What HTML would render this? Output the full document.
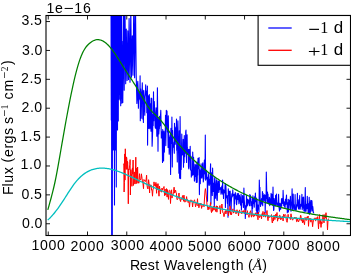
<!DOCTYPE html>
<html><head><meta charset="utf-8"><style>
html,body{margin:0;padding:0;background:#fff;overflow:hidden}
svg{display:block;will-change:transform}
text{font-family:"Liberation Sans",sans-serif;fill:#000}
</style></head><body>
<svg width="351" height="273" viewBox="0 0 351 273">
<rect x="0" y="0" width="351" height="273" fill="#fff"/>
<defs><clipPath id="ax"><rect x="46.0" y="15.5" width="304.50" height="220.00"/></clipPath></defs>
<g clip-path="url(#ax)" fill="none" stroke-linejoin="round" stroke-linecap="butt">
<path d="M111.0,-5.0 111.3,120.0 111.5,-5.0 111.7,240.0 112.0,-5.0 112.3,240.0 112.6,-5.0 113.0,-5.0 113.3,150.0 113.6,-5.0 114.2,-5.0 114.5,205.0 114.8,-5.0 115.3,-5.0 115.6,150.0 116.0,-5.0 116.3,187.0 116.6,-5.0 117.2,-5.0 117.5,130.0 117.9,-5.0 118.3,121.0 118.6,6.1 118.9,99.1 119.2,-8.9 119.5,94.4 119.7,-9.0 120.1,100.1 120.4,-1.3 120.7,105.7 121.1,-2.2 121.4,98.4 121.6,1.1 121.9,103.3 122.1,41.2 122.8,102.4 123.6,4.1 124.2,90.2 124.9,-3.5 125.7,83.8 126.3,29.0 127.1,80.5 127.8,30.7 128.5,79.6 129.1,18.5 130.0,82.3 130.8,8.7 131.5,77.2 132.3,35.8 133.0,75.2 133.8,3.8 134.6,77.7 135.4,-2.2 136.2,75.2 136.9,103.5 137.3,97.6 137.6,83.4 137.8,81.2 138.1,88.5 138.4,108.2 138.6,96.6 138.9,98.6 139.2,91.9 139.5,93.3 139.8,99.8 140.1,75.7 140.3,120.7 140.6,88.9 140.9,92.0 141.2,118.3 141.5,102.9 141.7,100.7 142.0,93.7 142.3,82.8 142.6,104.2 142.8,119.0 143.1,91.9 143.4,122.4 143.7,90.2 144.0,95.3 144.3,111.6 144.5,104.8 144.8,115.2 145.1,97.1 145.4,94.1 145.7,84.8 145.9,92.9 146.2,94.9 146.5,91.2 146.8,112.7 147.1,101.0 147.4,86.0 147.6,145.1 147.9,100.2 148.2,95.7 148.4,128.5 148.8,127.9 149.0,98.0 149.3,94.6 149.6,100.6 149.8,128.7 150.2,109.4 150.4,103.8 150.7,113.3 151.0,131.2 151.2,98.0 151.5,110.1 151.8,98.6 152.1,146.2 152.3,141.4 152.7,129.3 153.0,114.4 153.2,125.6 153.5,91.9 153.8,120.7 154.0,101.3 154.3,101.7 154.6,109.2 154.9,113.7 155.1,126.2 155.4,128.2 155.7,122.2 156.1,107.7 156.3,128.7 156.6,117.8 156.8,136.3 157.2,109.0 157.4,87.7 157.7,114.7 158.0,151.3 158.2,127.5 158.6,118.8 158.8,134.0 159.1,128.9 159.4,128.6 159.6,116.2 160.0,123.7 160.2,125.7 160.5,115.6 160.8,110.4 161.1,125.8 161.3,138.0 161.6,133.7 161.9,131.9 162.2,132.3 162.5,162.4 162.7,129.5 163.0,141.1 163.3,154.5 163.6,161.0 163.9,131.0 164.1,142.5 164.4,152.1 164.7,132.8 165.0,133.8 165.3,130.3 165.5,115.2 165.8,145.6 166.1,127.1 166.3,110.3 166.6,128.9 167.0,111.0 167.2,119.7 167.5,132.0 167.8,121.5 168.1,147.5 168.3,115.8 168.6,136.8 168.9,141.2 169.2,154.2 169.5,147.0 169.7,137.7 170.1,136.0 170.3,134.5 170.6,174.5 170.9,128.4 171.2,143.4 171.4,135.4 171.7,140.2 171.9,117.0 172.3,166.9 172.6,130.5 172.8,141.7 173.1,142.3 173.4,147.2 173.7,145.4 173.9,145.3 174.3,153.2 174.5,123.3 174.7,140.5 175.1,127.1 175.3,144.2 175.6,128.3 175.9,131.1 176.1,141.3 176.5,119.0 176.7,150.3 177.0,146.9 177.3,162.0 177.5,133.1 177.9,120.9 178.2,139.4 178.4,141.3 178.7,161.0 178.9,173.3 179.3,130.7 179.6,178.3 179.8,166.4 180.1,116.5 180.4,151.3 180.6,178.6 180.9,148.3 181.2,169.4 181.5,149.9 181.8,134.0 182.0,154.9 182.3,148.0 182.7,153.8 182.9,154.6 183.2,139.4 183.5,167.3 183.8,140.7 184.1,162.6 184.3,135.6 184.6,156.8 184.8,144.3 185.1,153.5 185.4,146.8 185.7,131.9 186.0,130.0 186.3,155.3 186.6,162.4 186.8,140.8 187.1,134.8 187.3,147.4 187.7,154.2 188.0,150.6 188.3,149.3 188.5,167.3 188.8,169.0 189.1,166.7 189.3,149.6 189.6,159.7 189.9,157.3 190.2,146.2 190.5,169.9 190.7,161.2 191.0,156.2 191.3,177.1 191.6,170.0 191.9,171.3 192.1,175.6 192.5,170.5 192.7,152.0 193.0,159.7 193.3,174.8 193.6,157.4 193.8,164.4 194.1,168.8 194.4,181.1 194.7,179.8 194.9,175.6 195.2,164.2 195.5,176.4 195.8,172.3 196.1,165.3 196.3,182.4 196.6,172.8 196.9,162.0 197.2,182.3 197.5,166.2 197.7,175.1 198.0,158.3 198.3,168.8 198.6,163.0 198.8,163.2 199.1,157.5 199.4,194.6 199.7,169.5 200.0,173.4 200.3,183.6 200.6,170.6 200.9,177.4 201.1,163.7 201.4,174.4 201.7,169.9 201.9,178.3 202.2,175.0 202.5,165.1 202.8,162.8 203.0,167.9 203.3,182.0 203.6,179.0 203.9,179.0 204.2,163.5 204.4,160.0 204.8,172.0 205.0,173.9 205.3,135.0 205.6,180.1 205.9,175.7 206.2,170.4 206.4,172.3 206.7,179.0 206.9,178.4 207.2,177.5 207.5,201.3 207.8,177.1 208.1,180.0 208.3,173.6 208.6,177.4 208.9,184.8 209.2,185.5 209.5,179.3 209.8,184.3 210.0,181.2 210.3,170.8 210.6,163.7 210.9,204.0 211.2,189.6 211.5,181.4 211.7,172.8 212.0,175.5 212.3,195.5 212.6,168.1 212.9,181.2 213.1,191.4 213.4,184.6 213.7,190.7 214.0,183.0 214.3,206.7 214.6,178.9 214.9,177.4 215.1,187.2 215.4,198.2 215.6,184.7 215.9,194.9 216.2,182.7 216.5,179.7 216.8,198.8 217.1,200.5 217.3,200.3 217.6,184.3 217.9,180.9 218.2,181.1 218.4,185.9 218.7,192.5 219.0,192.1 219.3,180.7 219.6,189.6 219.8,188.2 220.2,189.1 220.4,188.3 220.7,187.6 221.0,194.1 221.2,190.1 221.6,191.2 221.8,186.1 222.1,193.1 222.4,189.2 222.6,180.1 222.9,194.4 223.2,189.2 223.5,198.5 223.7,190.0 224.1,190.5 224.3,192.9 224.6,191.3 224.9,189.5 225.2,183.5 225.4,207.4 225.8,184.9 226.1,190.6 226.3,197.8 226.6,195.6 226.9,197.3 227.2,199.2 227.4,203.4 227.7,195.5 228.0,217.2 228.3,188.8 228.6,195.4 228.9,192.0 229.1,191.4 229.4,196.2 229.6,205.9 230.0,191.1 230.2,191.2 230.5,200.3 230.8,199.0 231.1,210.5 231.3,203.1 231.6,196.9 231.9,193.7 232.2,197.0 232.5,194.7 232.8,189.7 233.0,195.8 233.3,195.1 233.6,195.0 233.9,194.3 234.2,209.5 234.4,201.8 234.7,203.8 235.0,194.1 235.3,192.5 235.6,195.7 235.8,198.9 236.1,195.7 236.4,196.5 236.6,204.8 237.0,199.8 237.2,193.6 237.5,196.0 237.8,195.2 238.1,199.4 238.3,193.4 238.6,197.6 238.9,203.6 239.2,198.8 239.4,195.0 239.7,196.3 240.0,199.8 240.3,202.6 240.6,205.3 240.9,198.6 241.1,194.0 241.4,209.9 241.7,201.7 242.0,202.5 242.3,201.9 242.5,195.6 242.9,198.6 243.1,201.8 243.4,207.5 243.7,200.5 243.9,188.0 244.2,199.3 244.5,202.9 244.8,209.7 245.1,205.6 245.3,218.4 245.6,210.8 245.9,210.4 246.2,207.6 246.5,195.6 246.7,207.0 247.0,205.4 247.3,199.1 247.6,205.4 247.9,204.3 248.1,199.6 248.4,201.0 248.7,200.5 249.0,203.3 249.2,200.0 249.5,205.7 249.8,194.5 250.1,200.8 250.4,195.4 250.7,200.2 250.9,205.7 251.2,202.4 251.5,201.8 251.8,202.8 252.1,213.0 252.3,197.7 252.6,208.4 252.9,195.8 253.2,200.4 253.4,203.5 253.7,198.6 254.0,203.8 254.3,207.1 254.6,196.9 254.8,202.1 255.1,200.7 255.4,193.1 255.7,201.5 256.0,198.5 256.3,210.5 256.6,198.0 256.8,212.5 257.1,199.7 257.4,213.7 257.7,205.5 258.0,205.0 258.2,207.0 258.5,207.5 258.8,210.2 259.0,212.0 259.3,180.0 259.7,195.4 259.9,187.3 260.2,200.2 260.5,206.4 260.8,204.3 261.0,203.0 261.3,200.3 261.6,198.5 261.8,200.6 262.1,204.3 262.4,191.5 262.7,205.8 263.0,193.2 263.2,201.3 263.6,198.3 263.9,199.9 264.1,195.5 264.4,194.7 264.7,200.7 265.0,195.0 265.2,213.0 265.5,199.4 265.8,197.8 266.1,198.5 266.3,172.0 266.6,185.9 266.9,200.4 267.2,203.4 267.5,192.1 267.8,202.0 268.0,194.0 268.3,201.7 268.6,203.5 268.9,204.0 269.2,203.8 269.4,197.2 269.7,205.6 270.0,198.9 270.3,203.3 270.5,204.8 270.8,199.8 271.1,193.3 271.4,204.3 271.6,194.3 271.9,195.8 272.2,194.5 272.5,205.3 272.8,200.8 273.0,187.1 273.4,205.0 273.6,210.5 273.9,209.5 274.1,198.5 274.5,202.6 274.7,204.4 275.0,206.0 275.3,202.7 275.6,195.4 275.9,205.7 276.2,205.2 276.5,194.0 276.7,200.4 277.0,204.0 277.2,202.9 277.6,205.1 277.8,206.2 278.1,205.3 278.4,202.4 278.6,194.4 278.9,205.7 279.2,208.8 279.5,211.1 279.8,203.3 280.1,203.3 280.4,209.2 280.7,209.2 280.9,205.1 281.2,206.6 281.5,198.9 281.7,206.2 282.0,198.6 282.3,203.1 282.6,203.3 282.9,201.1 283.1,190.4 283.4,198.9 283.7,205.6 284.0,204.0 284.2,201.9 284.5,206.1 284.8,207.1 285.1,207.8 285.4,199.4 285.6,204.8 285.9,202.6 286.2,199.1 286.5,195.1 286.7,204.3 287.0,199.3 287.3,212.8 287.6,204.4 287.9,203.7 288.1,202.6 288.4,211.9 288.7,199.2 289.0,204.3 289.3,200.4 289.6,204.6 289.8,205.3 290.1,209.4 290.4,196.4 290.7,205.5 291.0,211.3 291.3,202.4 291.6,204.6 291.8,200.0 292.1,188.8 292.3,205.2 292.7,210.0 292.9,202.9 293.2,194.0 293.5,207.0 293.8,206.4 294.1,209.5 294.3,209.3 294.6,204.5 294.9,207.6 295.1,194.6 295.4,210.0 295.7,207.0 296.0,210.0 296.3,210.0 296.6,204.6 296.9,205.5 297.2,200.9 297.4,193.2 297.7,205.8 298.0,207.2 298.2,199.7 298.5,209.0 298.8,207.1 299.1,208.3 299.4,201.9 299.7,195.5 300.0,209.4 300.2,208.9 300.5,206.2 300.8,204.3 301.1,205.2 301.4,206.2 301.6,203.8 301.9,194.2 302.2,209.6 302.5,197.6 302.7,205.1 303.0,205.3 303.3,208.1 303.6,197.0 303.9,211.0 304.1,209.4 304.4,209.8 304.7,211.3 305.0,202.4 305.3,187.5 305.5,208.6 305.8,211.5 306.1,211.1 306.4,204.2 306.6,207.1 307.0,208.6 307.3,196.2 307.5,203.5 307.8,203.8 308.1,212.4 308.3,203.7 308.7,212.4 308.9,208.0 309.2,197.3 309.5,214.3 309.7,201.9 310.1,209.8 310.3,212.9 310.5,204.7 310.8,200.3 311.1,211.1 311.4,208.4 311.7,200.5 312.0,201.4 312.2,205.8 312.6,210.9 312.8,206.5 313.1,210.1 313.4,212.9 313.7,211.8" stroke="#0000ff" stroke-width="1.1"/>
<path d="M123.5,164.3 123.8,163.7 124.1,192.0 124.4,182.5 124.7,153.9 125.0,180.1 125.3,148.8 125.6,159.7 125.9,166.0 126.2,169.3 126.5,156.9 126.8,158.4 127.1,169.4 127.4,161.3 127.7,162.1 128.0,176.2 128.3,203.8 128.6,168.9 128.9,169.9 129.2,169.7 129.5,165.3 129.8,164.9 130.1,159.6 130.4,195.0 130.7,169.9 131.0,169.6 131.3,173.3 131.6,176.9 131.9,186.3 132.2,169.0 132.5,167.9 132.8,174.2 133.1,160.0 133.4,185.5 133.7,182.2 134.0,180.0 134.3,171.9 134.6,180.8 134.9,184.1 135.2,178.7 135.5,171.1 135.8,157.2 136.1,183.7 136.4,171.7 136.7,168.2 137.0,183.3 137.3,179.2 137.6,167.0 137.9,177.0 138.0,179.9 138.6,183.1 139.0,183.2 139.5,173.7 140.0,178.9 140.5,179.9 141.0,179.0 141.4,173.8 142.1,178.7 142.6,183.0 142.9,182.5 143.5,188.7 143.9,179.5 144.5,180.5 145.0,180.1 145.5,181.5 146.0,180.5 146.6,175.2 147.0,185.1 147.5,188.2 148.0,189.0 148.6,179.7 149.1,183.8 149.6,192.9 149.9,184.6 150.6,186.9 151.0,184.9 151.6,190.2 152.0,190.2 152.5,196.2 153.0,188.7 153.5,188.7 154.0,181.9 154.5,185.5 154.9,184.5 155.5,186.3 155.9,182.4 156.6,193.3 156.9,183.9 157.5,189.8 158.0,183.6 158.5,190.5 159.0,196.2 159.5,186.1 160.1,191.3 160.5,189.7 161.0,191.4 161.5,192.2 162.0,188.0 162.5,190.2 163.1,188.7 163.5,187.9 164.0,186.5 164.6,195.7 165.1,189.0 165.5,194.9 166.0,194.7 166.5,188.6 167.1,197.1 167.4,189.6 168.1,195.8 168.5,199.4 169.0,190.8 169.5,190.2 170.0,190.4 170.5,203.5 171.0,193.0 171.6,189.8 172.0,198.1 172.4,194.4 173.0,195.2 173.5,191.7 174.1,187.2 174.6,193.1 175.0,192.1 175.6,190.2 176.0,192.4 176.4,193.1 177.0,199.7 177.5,199.5 177.9,199.0 178.5,195.4 179.0,193.0 179.5,198.8 179.9,199.5 180.6,201.6 181.0,198.2 181.5,198.0 182.0,199.7 182.5,195.6 183.0,196.2 183.6,201.3 183.9,195.1 184.5,199.2 184.9,202.2 185.4,200.6 186.0,201.4 186.6,196.6 187.0,200.0 187.5,199.7 188.1,202.6 188.5,202.2 189.0,201.1 189.5,207.1 189.9,203.0 190.5,200.7 190.9,199.8 191.4,201.7 192.0,200.4 192.6,207.0 192.9,204.0 193.5,201.6 194.0,200.8 194.5,199.8 195.0,202.2 195.5,206.8 196.0,205.6 196.5,203.3 197.0,204.0 197.5,198.7 197.9,205.9 198.6,203.5 198.9,207.8 199.5,203.9 199.9,203.2 200.4,205.2 200.9,203.1 201.6,208.4 202.0,205.8 202.5,206.1 202.9,206.1 203.5,204.5 204.0,206.8 204.6,197.0 205.0,191.0 205.4,188.6 205.9,192.0 206.5,198.0 207.0,205.4 207.4,205.7 208.0,209.9 208.5,207.0 209.0,209.3 209.5,206.4 210.0,206.2 210.6,202.5 210.9,209.5 211.5,212.6 212.1,207.1 212.5,211.3 213.0,210.0 213.5,206.3 214.0,210.0 214.6,206.0 215.0,207.6 215.5,211.4 216.0,209.0 216.4,205.8 216.9,212.2 217.5,206.2 217.9,208.6 218.5,208.3 219.0,208.8 219.5,207.3 220.0,205.5 220.4,214.0 221.0,207.4 221.6,207.6 221.9,204.0 222.5,210.1 223.0,213.1 223.5,213.4 224.0,216.7 224.5,213.8 225.0,211.4 225.5,210.6 225.9,214.0 226.5,210.6 227.0,211.3 227.6,208.7 228.0,211.2 228.5,215.7 229.0,211.0 229.5,212.2 230.1,205.9 230.5,214.5 230.9,212.4 231.5,214.8 231.9,212.2 232.5,209.8 233.0,208.8 233.5,213.1 234.1,212.0 234.6,209.9 234.9,212.0 235.5,210.8 236.0,213.9 236.6,211.5 237.0,209.7 237.5,212.3 238.0,211.3 238.5,215.9 239.0,211.7 239.6,209.9 240.0,212.7 240.5,212.3 241.1,213.5 241.6,213.5 242.1,210.8 242.4,213.0 243.1,213.0 243.5,210.6 244.1,212.1 244.5,213.8 245.1,209.9 245.6,211.1 246.0,212.5 246.4,213.4 247.0,214.8 247.4,210.7 248.0,214.5 248.5,215.3 249.0,217.4 249.5,213.1 250.1,212.0 250.6,210.7 251.0,215.4 251.5,217.2 251.9,212.8 252.5,215.4 253.0,216.4 253.5,216.7 254.0,213.8 254.5,216.2 255.0,214.7 255.6,212.8 256.0,215.6 256.4,215.9 257.0,213.0 257.6,216.2 258.0,219.8 258.4,212.0 259.0,217.0 259.5,217.6 259.9,215.7 260.4,216.3 260.9,215.1 261.5,218.8 262.1,213.6 262.4,215.5 263.0,211.4 263.5,216.6 263.9,216.8 264.6,212.2 265.0,214.1 265.5,217.2 266.0,215.0 266.5,213.4 267.0,210.5 267.5,217.0 268.0,220.7 268.6,215.3 269.0,217.4 269.5,217.4 270.1,216.3 270.5,216.7 271.0,216.8 271.5,214.6 272.1,222.4 272.5,223.0 273.1,217.5 273.5,220.9 274.0,215.0 274.5,216.4 274.9,219.6 275.6,214.3 276.0,214.0 276.4,217.9 277.0,212.5 277.5,221.2 278.0,219.0 278.5,217.9 279.0,218.9 279.4,215.3 280.0,215.3 280.5,219.5 281.0,219.8 281.5,217.9 282.1,217.6 282.6,216.4 283.1,221.0 283.5,214.3 284.0,215.8 284.4,216.6 285.0,214.3 285.5,214.8 285.9,215.6 286.4,220.4 287.1,222.3 287.5,219.0 288.1,214.3 288.5,216.8 289.0,217.9 289.5,217.6 290.0,217.4 290.4,219.6 291.0,213.8 291.5,217.1 292.0,219.0 292.6,220.2 293.1,219.2 293.4,218.6 294.0,218.3 294.5,217.1 295.0,218.9 295.6,218.3 296.0,217.1 296.6,221.7 297.0,221.7 297.6,218.0 297.9,220.4 298.6,221.9 299.1,219.7 299.5,219.4 300.0,220.3 300.5,215.2 300.9,215.7 301.5,220.5 302.0,220.0 302.5,222.8 303.0,218.1 303.6,222.2 304.0,222.2 304.5,224.7 305.1,217.4 305.5,218.6 305.9,220.3 306.5,220.3 307.0,216.9 307.5,218.1 308.1,216.0 308.5,226.3 309.0,219.6 309.5,219.8 310.0,218.0 310.5,219.9 310.9,222.2 311.5,218.9 312.0,219.9 312.6,226.7 313.0,222.9 313.4,220.8 314.0,218.8 314.4,220.0 315.0,217.8 315.6,221.1 316.0,218.0 316.4,217.8 317.1,218.9 317.5,216.7 318.0,220.9 318.5,228.8 319.1,218.2 319.5,214.6 320.0,223.7 320.4,220.0 321.0,227.4 321.6,221.8 322.0,223.7 322.4,217.6 323.1,214.6 323.5,219.8 324.0,222.9 324.5,217.3 324.9,214.5 325.5,218.2 326.0,212.7 326.5,219.3 327.1,220.4 327.5,229.9 328.0,220.7 328.5,218.6" stroke="#ff0000" stroke-width="1.0"/>
<path d="M47.80,209.94 48.81,206.31 49.82,202.68 50.84,198.99 51.85,195.19 52.86,191.21 53.87,186.99 54.89,182.49 55.90,177.63 56.91,172.42 57.92,166.92 58.94,161.21 59.95,155.38 60.96,149.51 61.97,143.65 62.99,137.83 64.00,132.07 65.01,126.37 66.02,120.76 67.04,115.24 68.05,109.83 69.06,104.54 70.07,99.39 71.08,94.40 72.10,89.57 73.11,84.92 74.12,80.46 75.13,76.22 76.15,72.20 77.16,68.42 78.17,64.89 79.18,61.64 80.20,58.67 81.21,56.00 82.22,53.64 83.23,51.55 84.25,49.73 85.26,48.13 86.27,46.73 87.28,45.52 88.29,44.45 89.31,43.52 90.32,42.68 91.33,41.94 92.34,41.29 93.36,40.75 94.37,40.30 95.38,39.97 96.39,39.74 97.41,39.64 98.42,39.65 99.43,39.77 100.44,40.01 101.46,40.35 102.47,40.80 103.48,41.36 104.49,42.01 105.51,42.75 106.52,43.59 107.53,44.52 108.54,45.53 109.55,46.63 110.57,47.80 111.58,49.06 112.59,50.38 113.60,51.77 114.62,53.21 115.63,54.70 116.64,56.23 117.65,57.80 118.67,59.39 119.68,61.01 120.69,62.63 121.70,64.27 122.72,65.90 123.73,67.52 124.74,69.12 125.75,70.71 126.77,72.27 127.78,73.82 128.79,75.35 129.80,76.89 130.81,78.42 131.83,79.96 132.84,81.51 133.85,83.07 134.86,84.66 135.88,86.27 136.89,87.91 137.90,89.60 138.91,91.32 139.93,93.07 140.94,94.83 141.95,96.60 142.96,98.36 143.98,100.09 144.99,101.79 146.00,103.44 147.01,105.03 148.03,106.54 149.04,107.97 150.05,109.30 151.06,110.52 152.07,111.62 153.09,112.65 154.10,113.62 155.11,114.56 156.12,115.49 157.14,116.44 158.15,117.44 159.16,118.50 160.17,119.63 161.19,120.82 162.20,122.05 163.21,123.34 164.22,124.66 165.24,126.02 166.25,127.41 167.26,128.81 168.27,130.23 169.28,131.66 170.30,133.08 171.31,134.51 172.32,135.91 173.33,137.31 174.35,138.67 175.36,140.01 176.37,141.31 177.38,142.58 178.40,143.82 179.41,145.04 180.42,146.22 181.43,147.39 182.45,148.53 183.46,149.64 184.47,150.74 185.48,151.82 186.50,152.88 187.51,153.93 188.52,154.96 189.53,155.97 190.54,156.97 191.56,157.96 192.57,158.93 193.58,159.88 194.59,160.83 195.61,161.75 196.62,162.67 197.63,163.57 198.64,164.46 199.66,165.33 200.67,166.19 201.68,167.04 202.69,167.88 203.71,168.70 204.72,169.52 205.73,170.32 206.74,171.11 207.76,171.88 208.77,172.65 209.78,173.41 210.79,174.15 211.80,174.89 212.82,175.61 213.83,176.32 214.84,177.03 215.85,177.72 216.87,178.41 217.88,179.09 218.89,179.76 219.90,180.41 220.92,181.06 221.93,181.71 222.94,182.34 223.95,182.97 224.97,183.59 225.98,184.20 226.99,184.80 228.00,185.40 229.02,185.98 230.03,186.57 231.04,187.14 232.05,187.70 233.06,188.26 234.08,188.81 235.09,189.36 236.10,189.89 237.11,190.42 238.13,190.94 239.14,191.46 240.15,191.97 241.16,192.47 242.18,192.96 243.19,193.45 244.20,193.93 245.21,194.41 246.23,194.87 247.24,195.33 248.25,195.79 249.26,196.24 250.27,196.68 251.29,197.11 252.30,197.54 253.31,197.97 254.32,198.38 255.34,198.79 256.35,199.20 257.36,199.60 258.37,199.99 259.39,200.38 260.40,200.76 261.41,201.13 262.42,201.50 263.44,201.87 264.45,202.22 265.46,202.58 266.47,202.92 267.49,203.27 268.50,203.60 269.51,203.93 270.52,204.26 271.53,204.58 272.55,204.90 273.56,205.21 274.57,205.52 275.58,205.82 276.60,206.12 277.61,206.41 278.62,206.70 279.63,206.98 280.65,207.26 281.66,207.54 282.67,207.81 283.68,208.07 284.70,208.33 285.71,208.59 286.72,208.85 287.73,209.10 288.75,209.34 289.76,209.58 290.77,209.82 291.78,210.06 292.79,210.29 293.81,210.52 294.82,210.74 295.83,210.96 296.84,211.18 297.86,211.39 298.87,211.60 299.88,211.81 300.89,212.02 301.91,212.22 302.92,212.42 303.93,212.61 304.94,212.81 305.96,213.00 306.97,213.18 307.98,213.37 308.99,213.55 310.01,213.73 311.02,213.91 312.03,214.08 313.04,214.26 314.05,214.43 315.07,214.60 316.08,214.76 317.09,214.93 318.10,215.09 319.12,215.25 320.13,215.41 321.14,215.57 322.15,215.73 323.17,215.88 324.18,216.03 325.19,216.18 326.20,216.33 327.22,216.48 328.23,216.63 329.24,216.78 330.25,216.92 331.26,217.07 332.28,217.21 333.29,217.35 334.30,217.49 335.31,217.63 336.33,217.77 337.34,217.91 338.35,218.05 339.36,218.19 340.38,218.33 341.39,218.46 342.40,218.60 343.41,218.74 344.43,218.88 345.44,219.01 346.45,219.15 347.46,219.29 348.48,219.42 349.49,219.56 350.50,219.70" stroke="#008000" stroke-width="1.25"/>
<path d="M47.70,220.05 48.71,219.14 49.73,218.17 50.74,217.14 51.75,216.06 52.76,214.92 53.78,213.73 54.79,212.50 55.80,211.22 56.81,209.89 57.83,208.53 58.84,207.12 59.85,205.67 60.87,204.20 61.88,202.68 62.89,201.14 63.90,199.57 64.92,197.99 65.93,196.39 66.94,194.79 67.95,193.20 68.97,191.62 69.98,190.07 70.99,188.54 72.01,187.05 73.02,185.61 74.03,184.22 75.04,182.89 76.06,181.63 77.07,180.44 78.08,179.31 79.09,178.25 80.11,177.25 81.12,176.31 82.13,175.43 83.14,174.61 84.16,173.85 85.17,173.14 86.18,172.49 87.20,171.89 88.21,171.34 89.22,170.84 90.23,170.39 91.25,169.98 92.26,169.62 93.27,169.30 94.28,169.02 95.30,168.79 96.31,168.59 97.32,168.42 98.34,168.30 99.35,168.21 100.36,168.14 101.37,168.12 102.39,168.12 103.40,168.15 104.41,168.21 105.42,168.29 106.44,168.40 107.45,168.54 108.46,168.71 109.48,168.89 110.49,169.10 111.50,169.34 112.51,169.59 113.53,169.86 114.54,170.15 115.55,170.46 116.56,170.79 117.58,171.14 118.59,171.50 119.60,171.87 120.62,172.26 121.63,172.66 122.64,173.08 123.65,173.50 124.67,173.94 125.68,174.38 126.69,174.83 127.70,175.29 128.72,175.76 129.73,176.23 130.74,176.71 131.75,177.19 132.77,177.67 133.78,178.16 134.79,178.64 135.81,179.13 136.82,179.62 137.83,180.10 138.84,180.58 139.86,181.06 140.87,181.54 141.88,182.02 142.89,182.49 143.91,182.96 144.92,183.43 145.93,183.90 146.95,184.36 147.96,184.82 148.97,185.28 149.98,185.74 151.00,186.19 152.01,186.64 153.02,187.09 154.03,187.54 155.05,187.98 156.06,188.42 157.07,188.85 158.09,189.29 159.10,189.72 160.11,190.14 161.12,190.57 162.14,190.99 163.15,191.40 164.16,191.81 165.17,192.22 166.19,192.63 167.20,193.03 168.21,193.43 169.23,193.82 170.24,194.21 171.25,194.60 172.26,194.98 173.28,195.36 174.29,195.74 175.30,196.11 176.31,196.47 177.33,196.84 178.34,197.19 179.35,197.55 180.36,197.90 181.38,198.24 182.39,198.58 183.40,198.92 184.42,199.26 185.43,199.58 186.44,199.91 187.45,200.23 188.47,200.55 189.48,200.86 190.49,201.17 191.50,201.48 192.52,201.78 193.53,202.08 194.54,202.38 195.56,202.67 196.57,202.96 197.58,203.24 198.59,203.52 199.61,203.80 200.62,204.08 201.63,204.35 202.64,204.61 203.66,204.88 204.67,205.14 205.68,205.39 206.70,205.65 207.71,205.90 208.72,206.14 209.73,206.39 210.75,206.63 211.76,206.87 212.77,207.10 213.78,207.33 214.80,207.56 215.81,207.78 216.82,208.00 217.84,208.22 218.85,208.44 219.86,208.65 220.87,208.86 221.89,209.07 222.90,209.27 223.91,209.47 224.92,209.67 225.94,209.87 226.95,210.06 227.96,210.25 228.97,210.44 229.99,210.62 231.00,210.80 232.01,210.98 233.03,211.16 234.04,211.33 235.05,211.51 236.06,211.67 237.08,211.84 238.09,212.01 239.10,212.17 240.11,212.33 241.13,212.48 242.14,212.64 243.15,212.79 244.17,212.94 245.18,213.09 246.19,213.23 247.20,213.38 248.22,213.52 249.23,213.66 250.24,213.79 251.25,213.93 252.27,214.06 253.28,214.19 254.29,214.32 255.31,214.45 256.32,214.57 257.33,214.70 258.34,214.82 259.36,214.94 260.37,215.05 261.38,215.17 262.39,215.28 263.41,215.40 264.42,215.51 265.43,215.62 266.45,215.72 267.46,215.83 268.47,215.93 269.48,216.04 270.50,216.14 271.51,216.24 272.52,216.33 273.53,216.43 274.55,216.52 275.56,216.62 276.57,216.71 277.58,216.80 278.60,216.89 279.61,216.98 280.62,217.07 281.64,217.15 282.65,217.24 283.66,217.32 284.67,217.40 285.69,217.48 286.70,217.56 287.71,217.64 288.72,217.72 289.74,217.80 290.75,217.88 291.76,217.95 292.78,218.02 293.79,218.10 294.80,218.17 295.81,218.24 296.83,218.31 297.84,218.38 298.85,218.45 299.86,218.52 300.88,218.59 301.89,218.66 302.90,218.73 303.92,218.79 304.93,218.86 305.94,218.92 306.95,218.99 307.97,219.05 308.98,219.12 309.99,219.18 311.00,219.24 312.02,219.30 313.03,219.37 314.04,219.43 315.06,219.49 316.07,219.55 317.08,219.61 318.09,219.67 319.11,219.74 320.12,219.80 321.13,219.86 322.14,219.92 323.16,219.98 324.17,220.04 325.18,220.10 326.19,220.16 327.21,220.22 328.22,220.28 329.23,220.34 330.25,220.40 331.26,220.47 332.27,220.53 333.28,220.59 334.30,220.65 335.31,220.71 336.32,220.78 337.33,220.84 338.35,220.90 339.36,220.97 340.37,221.03 341.39,221.10 342.40,221.16 343.41,221.23 344.42,221.29 345.44,221.36 346.45,221.43 347.46,221.50 348.47,221.56 349.49,221.63 350.50,221.70" stroke="#00bfbf" stroke-width="1.3"/>
</g>
<path d="M48.25,235.50V231.50M48.25,15.50V19.50M87.51,235.50V231.50M87.51,15.50V19.50M126.77,235.50V231.50M126.77,15.50V19.50M166.03,235.50V231.50M166.03,15.50V19.50M205.29,235.50V231.50M205.29,15.50V19.50M244.55,235.50V231.50M244.55,15.50V19.50M283.81,235.50V231.50M283.81,15.50V19.50M323.07,235.50V231.50M323.07,15.50V19.50M46.00,223.75H50.00M350.50,223.75H346.50M46.00,194.87H50.00M350.50,194.87H346.50M46.00,165.98H50.00M350.50,165.98H346.50M46.00,137.09H50.00M350.50,137.09H346.50M46.00,108.21H50.00M350.50,108.21H346.50M46.00,79.32H50.00M350.50,79.32H346.50M46.00,50.44H50.00M350.50,50.44H346.50M46.00,21.55H50.00M350.50,21.55H346.50" stroke="#000" stroke-width="0.9" fill="none"/>
<rect x="46.0" y="15.5" width="304.50" height="220.00" fill="none" stroke="#000" stroke-width="1.1"/>
<text><tspan style='font-family:"Liberation Sans",sans-serif;font-size:14.13px' x="31.42 39.98 48.46 56.94" y="250.25 250.26 250.26 250.26">1000</tspan></text><text><tspan style='font-family:"Liberation Sans",sans-serif;font-size:14.13px' x="70.44 79.10 87.58 96.07" y="250.88 250.90 250.90 250.90">2000</tspan></text><text><tspan style='font-family:"Liberation Sans",sans-serif;font-size:14.13px' x="110.87 119.33 127.81 136.30" y="250.41 250.41 250.41 250.41">3000</tspan></text><text><tspan style='font-family:"Liberation Sans",sans-serif;font-size:14.13px' x="149.57 158.05 166.53 175.01" y="250.67 250.68 250.68 250.68">4000</tspan></text><text><tspan style='font-family:"Liberation Sans",sans-serif;font-size:14.13px' x="188.01 196.54 205.02 213.51" y="250.87 250.85 250.85 250.85">5000</tspan></text><text><tspan style='font-family:"Liberation Sans",sans-serif;font-size:14.13px' x="227.47 235.95 244.44 252.92" y="250.91 250.91 250.91 250.91">6000</tspan></text><text><tspan style='font-family:"Liberation Sans",sans-serif;font-size:14.13px' x="266.36 274.87 283.35 291.84" y="250.06 250.07 250.07 250.07">7000</tspan></text><text><tspan style='font-family:"Liberation Sans",sans-serif;font-size:14.13px' x="306.52 315.00 323.49 331.97" y="250.81 250.81 250.81 250.81">8000</tspan></text><text><tspan style='font-family:"Liberation Sans",sans-serif;font-size:14.13px' x="21.90 30.22 34.62" y="227.69 227.61 227.69">0.0</tspan></text><text><tspan style='font-family:"Liberation Sans",sans-serif;font-size:14.13px' x="21.39 29.72 34.06" y="198.59 198.51 198.61">0.5</tspan></text><text><tspan style='font-family:"Liberation Sans",sans-serif;font-size:14.13px' x="20.61 29.00 33.40" y="169.37 169.30 169.38">1.0</tspan></text><text><tspan style='font-family:"Liberation Sans",sans-serif;font-size:14.13px' x="20.18 28.58 32.93" y="141.07 141.00 141.10">1.5</tspan></text><text><tspan style='font-family:"Liberation Sans",sans-serif;font-size:14.13px' x="21.48 29.97 34.37" y="112.37 112.32 112.40">2.0</tspan></text><text><tspan style='font-family:"Liberation Sans",sans-serif;font-size:14.13px' x="21.02 29.52 33.86" y="83.45 83.40 83.50">2.5</tspan></text><text><tspan style='font-family:"Liberation Sans",sans-serif;font-size:14.13px' x="21.91 30.21 34.61" y="54.77 54.69 54.77">3.0</tspan></text><text><tspan style='font-family:"Liberation Sans",sans-serif;font-size:14.13px' x="21.44 29.75 34.10" y="25.05 24.96 25.06">3.5</tspan></text><text><tspan style='font-family:"Liberation Sans",sans-serif;font-size:14.13px' x="46.51 54.95" y="12.70 12.79">1e</tspan><tspan style='font-family:"Liberation Sans",sans-serif;font-size:14.13px' x="63.52" y="13.22" textLength="10.03" lengthAdjust="spacingAndGlyphs">&#8722;</tspan><tspan style='font-family:"Liberation Sans",sans-serif;font-size:14.13px' x="74.36 82.92" y="12.70 12.71">16</tspan></text><text><tspan style='font-family:"Liberation Sans",sans-serif;font-size:14.13px' x="129.91 139.63 147.67 155.20 159.81 163.97 176.88 185.81 193.49 201.78 205.40 213.73 222.08 230.93 235.85 243.99 248.12" y="270.28 270.37 270.36 270.11 270.36 270.28 270.37 270.37 270.37 270.33 270.37 270.35 270.26 270.11 270.33 270.36 269.76">Rest Wavelength (</tspan><tspan style='font-family:"Liberation Serif",serif;font-size:15.57px;font-style:italic' x="252.50" y="270.28">&#197;</tspan><tspan style='font-family:"Liberation Sans",sans-serif;font-size:14.13px' x="262.19" y="269.76">)</tspan></text><g transform="translate(12.63,194.43) rotate(-90)"><text><tspan style='font-family:"Liberation Sans",sans-serif;font-size:14.13px' x="-0.51 7.95 11.64 20.21 27.71 31.84 37.35 46.00 51.06 59.34 66.25 70.52" y="-0.02 0.04 0.01 0.07 0.01 -0.54 0.08 0.05 -0.04 0.07 0.01 0.07">Flux (ergs s</tspan><tspan style='font-family:"Liberation Sans",sans-serif;font-size:9.89px' x="78.23" y="-4.16" textLength="6.85" lengthAdjust="spacingAndGlyphs">&#8722;</tspan><tspan style='font-family:"Liberation Serif",serif;font-size:9.42px' x="85.17" y="-5.12">1</tspan><tspan style='font-family:"Liberation Sans",sans-serif;font-size:14.13px' x="90.80 95.01 103.01" y="0.01 0.08 0.05"> cm</tspan><tspan style='font-family:"Liberation Sans",sans-serif;font-size:9.89px' x="116.15" y="-4.16" textLength="6.85" lengthAdjust="spacingAndGlyphs">&#8722;</tspan><tspan style='font-family:"Liberation Serif",serif;font-size:9.39px' x="123.24" y="-5.12">2</tspan><tspan style='font-family:"Liberation Sans",sans-serif;font-size:14.13px' x="129.32" y="-0.54">)</tspan></text></g>
<rect x="258.1" y="15.5" width="92.4" height="49.8" fill="#fff" stroke="#000" stroke-width="1.1"/>
<path d="M268.3,28H291.7" stroke="#3838ff" stroke-width="1.6"/>
<path d="M268.3,50.3H291.7" stroke="#ff0000" stroke-width="1.3"/>
<text><tspan style='font-family:"Liberation Sans",sans-serif;font-size:16.95px' x="308.39" y="34.88" textLength="11.75" lengthAdjust="spacingAndGlyphs">&#8722;</tspan><tspan style='font-family:"Liberation Serif",serif;font-size:16.14px' x="320.29" y="33.25">1</tspan><tspan style='font-family:"Liberation Sans",sans-serif;font-size:16.95px' x="328.49 333.84" y="33.25 33.34"> d</tspan></text><text><tspan style='font-family:"Liberation Serif",serif;font-size:16.95px' x="307.82" y="56.98" textLength="12.90" lengthAdjust="spacingAndGlyphs">+</tspan><tspan style='font-family:"Liberation Serif",serif;font-size:16.14px' x="320.29" y="55.35">1</tspan><tspan style='font-family:"Liberation Sans",sans-serif;font-size:16.95px' x="328.49 333.84" y="55.35 55.44"> d</tspan></text>
</svg>
</body></html>
